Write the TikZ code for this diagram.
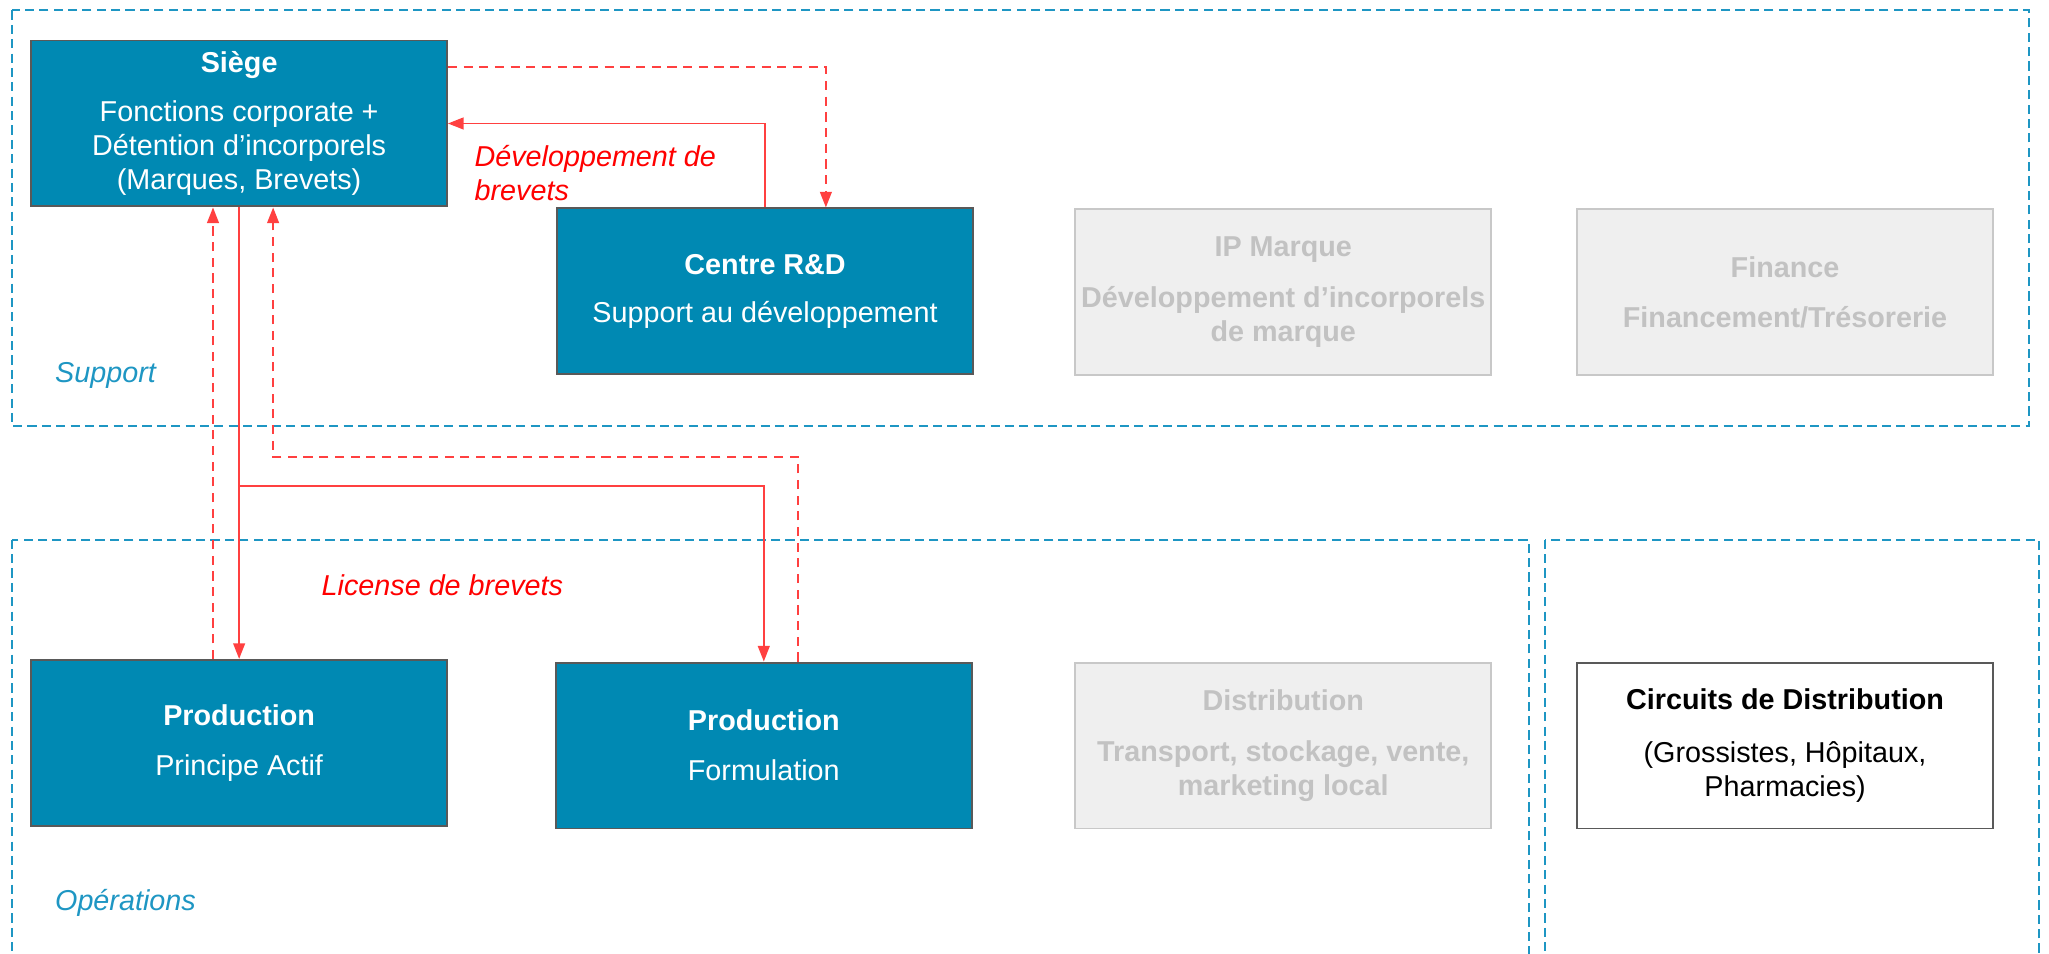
\documentclass[tikz,border=0pt]{standalone}
\usepackage{fontspec}
\setmainfont{Liberation Sans}
\usetikzlibrary{arrows.meta}

\definecolor{corpblue}{RGB}{0,137,179}
\definecolor{frameblue}{RGB}{30,150,195}
\definecolor{boxline}{RGB}{89,89,89}
\definecolor{linered}{RGB}{255,64,64}
\definecolor{labelred}{RGB}{255,0,0}
\definecolor{greyfill}{RGB}{239,239,239}
\definecolor{greyline}{RGB}{200,200,200}
\definecolor{greytext}{RGB}{194,194,194}

\begin{document}
\begin{tikzpicture}[x=1pt, y=-1pt]
  \tikzstyle{box} = [rectangle, draw, line width=1.5pt, minimum width=318pt, minimum height=127pt, inner sep=2pt, align=center, font=\fontsize{22}{26}\selectfont]
  \tikzstyle{entity} = [box, fill=corpblue, draw=boxline, text=white]
  \tikzstyle{inactive} = [box, fill=greyfill, draw=greyline, text=greytext, font=\fontsize{22}{26}\selectfont\bfseries]
  \tikzstyle{market} = [box, fill=white, draw=boxline, text=black]
  \tikzstyle{zone} = [draw=frameblue, line width=1.5pt, dash pattern=on 7pt off 4pt]
  \tikzstyle{zone_label} = [anchor=west, inner sep=0pt, text=frameblue, font=\fontsize{22}{26}\selectfont\itshape]
  \tikzstyle{flow} = [draw=linered, line width=1.5pt, -{Triangle[length=12pt, width=9pt]}]
  \tikzstyle{flow_back} = [flow, dash pattern=on 7pt off 5pt]
  \tikzstyle{flow_label} = [anchor=west, inner sep=0pt, align=left, text=labelred, font=\fontsize{22}{26}\selectfont\itshape]

  \useasboundingbox (0,0) rectangle (1568,730);

  % Frames
  \foreach \xa/\ya/\xb/\yb in {9/8/1553/326, 9/413/1170/745, 1182/413/1560/745}
    \draw[zone] (\xa,\ya) rectangle (\xb,\yb);

  \node[zone_label] (support) at (42,287) {Support};
  \node[zone_label] (operations) at (42,691) {Opérations};

  % Support entities
  \node[entity] (siege) at (183,94.5) {\textbf{Siège}\\[12pt]Fonctions corporate +\\Détention d’incorporels\\(Marques, Brevets)};
  \node[entity] (rd) at (585.5,223) {\textbf{Centre R\&D}\\[11pt]Support au développement};
  \node[inactive] (ipm) at (982,223.5) {IP Marque\\[13pt]Développement d’incorporels\\de marque};
  \node[inactive] (fin) at (1366,223.5) {Finance\\[12pt]Financement/Trésorerie};

  % Operations entities
  \node[entity] (prodA) at (183,568.5) {\textbf{Production}\\[12pt]Principe Actif};
  \node[entity] (prodF) at (584.5,570.5) {\textbf{Production}\\[12pt]Formulation};
  \node[inactive] (dist) at (982,570.5) {Distribution\\[13pt]Transport, stockage, vente,\\marketing local};
  \node[market] (circ) at (1366,570.5) {\textbf{Circuits de Distribution}\\[14pt](Grossistes, Hôpitaux,\\Pharmacies)};

  % Patent development
  \draw[flow] (rd.north) |- (siege.east);
  \draw[flow_back] ([yshift=-21pt]siege.north east) -| ([xshift=46.5pt]rd.north);
  \node[flow_label] (devlabel) at (363,132.5) {Développement de\\brevets};

  % Patent licence
  \coordinate (lic) at (183,372);
  \coordinate (ret) at (209,350);
  \draw[flow] (siege.south) -- (prodA.north);
  \draw[flow] (lic) -| (prodF.north);
  \draw[flow_back] ([xshift=-20pt]prodA.north) -- ([xshift=-20pt]siege.south);
  \draw[flow_back] ([xshift=26.5pt]prodF.north) |- (ret) -- ([xshift=26pt]siege.south);
  \node[flow_label] (liclabel) at (246,448) {License de brevets};

\end{tikzpicture}
\end{document}
